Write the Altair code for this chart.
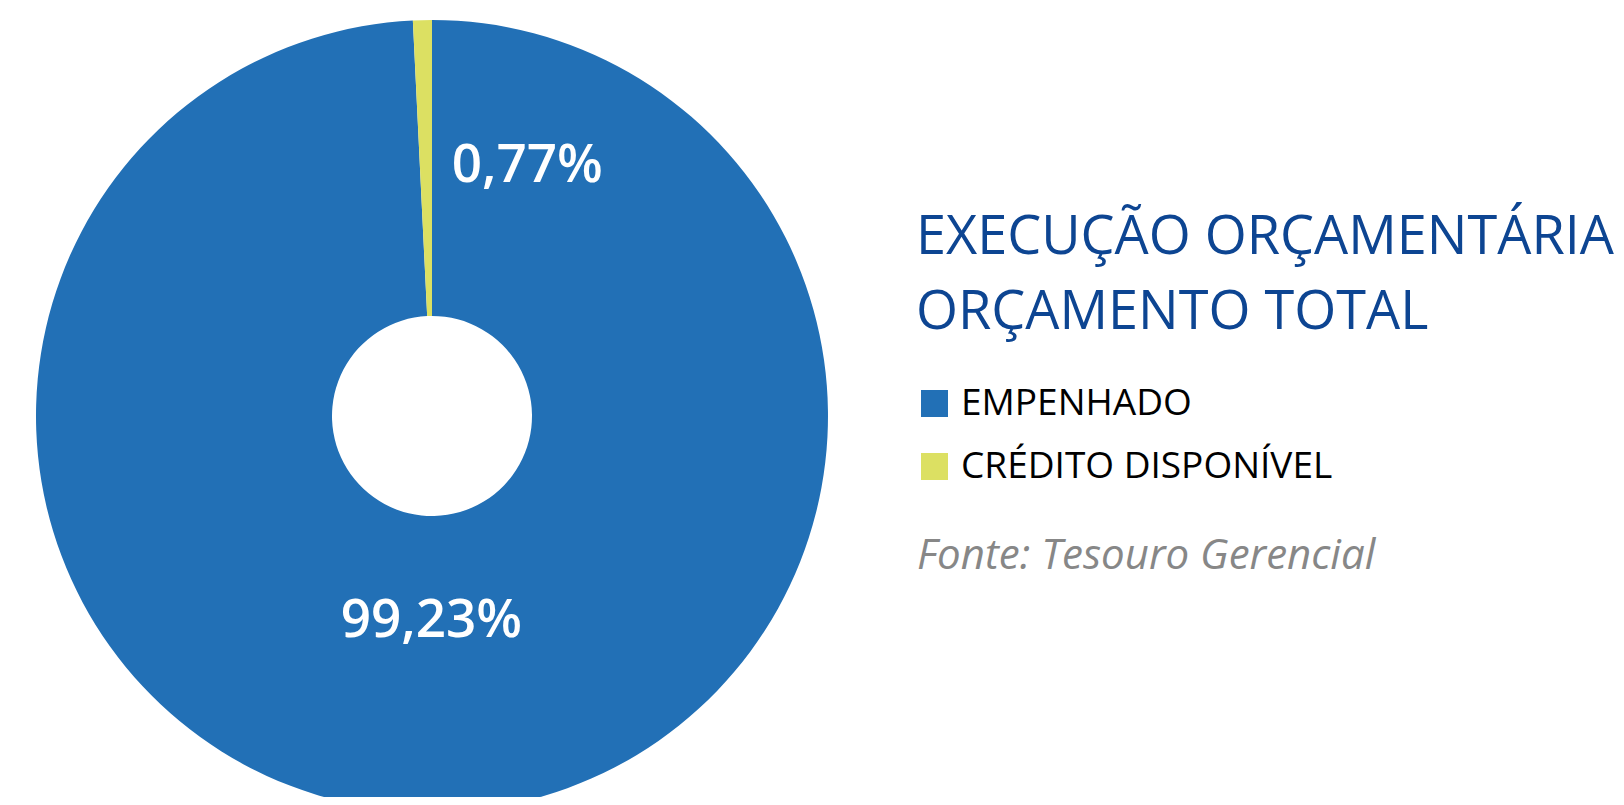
import altair as alt
import pandas as pd

# ---- data ----
categorias = ["EMPENHADO", "CRÉDITO DISPONÍVEL"]
valores = [99.23, 0.77]
rotulos = ["99,23%", "0,77%"]
cores = ["#2270B6", "#DCE062"]
titulo = ["EXECUÇÃO ORÇAMENTÁRIA", "ORÇAMENTO TOTAL"]
fonte = ["Fonte: Tesouro Gerencial"]

df = pd.DataFrame({
    "categoria": categorias,
    "valor": valores,
    "rotulo": rotulos,
    "ordem": list(range(len(categorias))),
})

CX, CY = 424, 408
FONT = "Open Sans"

theta_scale = alt.Scale(domain=[0, 100])

color = alt.Color(
    "categoria:N",
    scale=alt.Scale(domain=categorias, range=cores),
    sort=categorias,
    legend=alt.Legend(
        orient="none",
        legendX=908,
        legendY=377,
        title=None,
        symbolType="square",
        symbolSize=729,
        symbolStrokeWidth=0,
        symbolOpacity=1,
        labelFontSize=37,
        labelFont=FONT,
        labelColor="#000000",
        labelOffset=8,
        labelLimit=0,
        rowPadding=25,
        padding=0,
    ),
)

arc = alt.Chart(df).mark_arc(outerRadius=396, innerRadius=100, stroke=None).encode(
    theta=alt.Theta("valor:Q", stack=True, scale=theta_scale),
    color=color,
    order=alt.Order("ordem:Q"),
    x=alt.value(CX),
    y=alt.value(CY),
)

lab = (
    alt.Chart(df)
    .transform_stack(stack="valor", groupby=[], as_=["v0", "v1"], sort=[alt.SortField("ordem")])
    .transform_calculate(mid="(datum.v0 + datum.v1) / 2")
)

def label_layer(cat, radius, dx):
    return lab.transform_filter(alt.datum.categoria == cat).mark_text(
        radius=radius, dx=dx, fontSize=53, fontWeight=600, font=FONT, color="white",
        align="center", baseline="alphabetic",
    ).encode(
        theta=alt.Theta("mid:Q", scale=theta_scale),
        text="rotulo:N",
        x=alt.value(CX),
        y=alt.value(CY),
    )

lab_big = label_layer(categorias[0], 221, -6)
lab_small = label_layer(categorias[1], 234, 101)

head = alt.Chart(pd.DataFrame({"t": ["\n".join(titulo)]})).mark_text(
    font=FONT, fontSize=54, color="#0D4592", align="left", baseline="alphabetic",
    lineBreak="\n", lineHeight=75,
).encode(text="t:N", x=alt.value(908), y=alt.value(246))

src = alt.Chart(pd.DataFrame({"t": fonte})).mark_text(
    font=FONT, fontSize=42, fontStyle="italic", color="#878787", align="left",
    baseline="alphabetic",
).encode(text="t:N", x=alt.value(909), y=alt.value(561))

chart = alt.layer(arc, lab_big, lab_small, head, src).properties(
    width=1608, height=789, padding=0,
    autosize=alt.AutoSizeParams(type="none"),
).configure_view(stroke=None)

chart.save("out.html", embed_options={"renderer": "svg", "actions": False})
